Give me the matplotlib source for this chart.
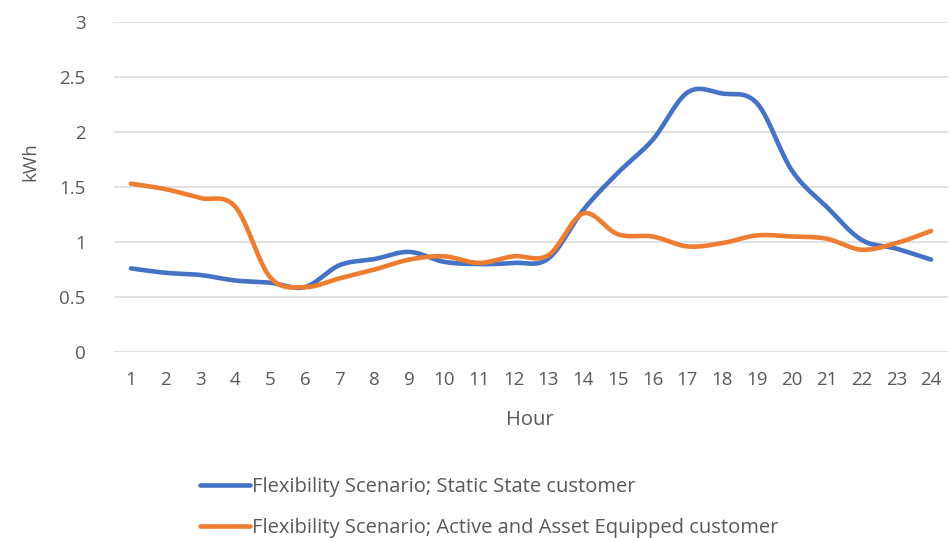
import matplotlib
matplotlib.use("Agg")
import matplotlib.pyplot as plt
import numpy as np

plt.rcParams['font.family'] = ['Open Sans', 'DejaVu Sans']

hours = list(range(1, 25))
static = [0.76, 0.72, 0.70, 0.65, 0.63, 0.59, 0.79, 0.845, 0.91, 0.82, 0.80, 0.81,
          0.85, 1.29, 1.63, 1.93, 2.36, 2.35, 2.26, 1.65, 1.32, 1.02, 0.94, 0.84]
active = [1.53, 1.48, 1.40, 1.32, 0.68, 0.59, 0.67, 0.75, 0.84, 0.87, 0.81, 0.87,
          0.88, 1.26, 1.07, 1.05, 0.96, 0.99, 1.06, 1.05, 1.03, 0.93, 0.99, 1.10]
labels = ["Flexibility Scenario; Static State customer",
          "Flexibility Scenario; Active and Asset Equipped customer"]
colors = ["#4472C4", "#ED7D31"]
yticks = [0, 0.5, 1, 1.5, 2, 2.5, 3]


def smooth(x, y, n=30):
    # excel-like smoothed line: bezier segments with catmull-rom control points
    x = np.asarray(x, float)
    y = np.asarray(y, float)
    px = np.concatenate([[x[0]], x, [x[-1]]])
    py = np.concatenate([[y[0]], y, [y[-1]]])
    t = np.linspace(0, 1, n)
    xs, ys = [], []
    for i in range(1, len(px) - 2):
        p0 = np.array([px[i], py[i]])
        p3 = np.array([px[i + 1], py[i + 1]])
        c1 = p0 + (np.array([px[i + 1], py[i + 1]]) - np.array([px[i - 1], py[i - 1]])) / 6
        c2 = p3 - (np.array([px[i + 2], py[i + 2]]) - np.array([px[i], py[i]])) / 6
        b = ((1 - t) ** 3)[:, None] * p0 + (3 * (1 - t) ** 2 * t)[:, None] * c1 \
            + (3 * (1 - t) * t ** 2)[:, None] * c2 + (t ** 3)[:, None] * p3
        xs.append(b[:, 0])
        ys.append(b[:, 1])
    return np.concatenate(xs), np.concatenate(ys)


fig = plt.figure(figsize=(9.49, 5.38), dpi=100)
ax = fig.add_axes([0.1197, 0.3457, 0.8797, 0.6134])

for vals, lab, c in zip([static, active], labels, colors):
    sx, sy = smooth(hours, vals)
    ax.plot(sx, sy, color=c, lw=3.3, solid_capstyle='round', label=lab, zorder=3)

ax.set_xlim(0.5, 24.5)
ax.set_ylim(0, 3)
ax.set_yticks(yticks)
ax.set_yticklabels([f"{v:g}" for v in yticks])
ax.set_xticks(hours)
ax.grid(axis='y', color='#d9d9d9', lw=1.1)
ax.set_axisbelow(True)
for s in ax.spines.values():
    s.set_visible(False)
ax.tick_params(length=0, labelsize=13.5, colors='#595959')
ax.tick_params(axis='y', pad=20)
ax.tick_params(axis='x', pad=14)

fig.text(0.558, 0.22, "Hour", ha='center', va='center', fontsize=14.5, color='#595959')
fig.text(0.032, 0.70, "kWh", ha='center', va='center', rotation=90, fontsize=13.5, color='#595959')

fig.legend(loc='upper left', bbox_to_anchor=(0.202, 0.128), frameon=False, fontsize=14.5,
           handlelength=2.5, handletextpad=0.1, labelspacing=1.05, borderaxespad=0,
           labelcolor='#595959')

fig.savefig("out.png", dpi=100)
